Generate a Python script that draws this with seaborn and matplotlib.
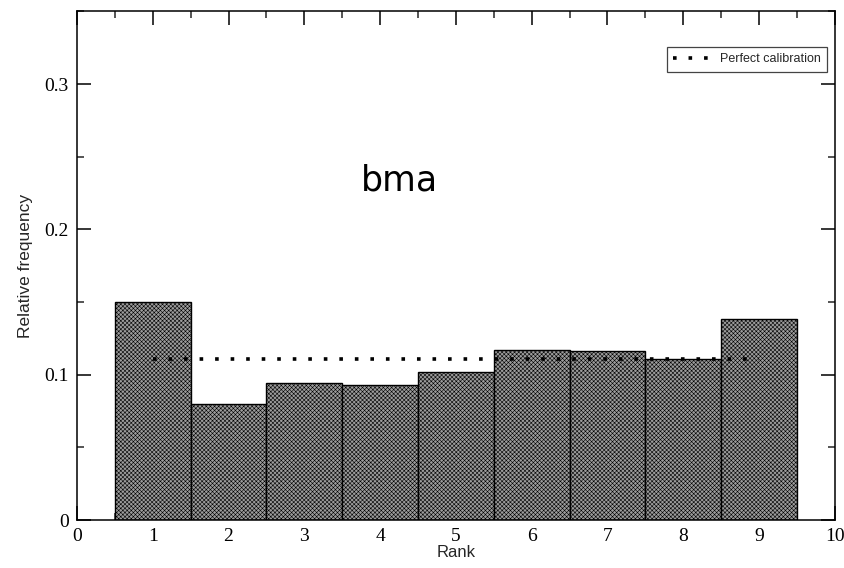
import numpy as np
import pandas as pd
import matplotlib
matplotlib.use("Agg")
import matplotlib.pyplot as plt
import seaborn as sns
from matplotlib.ticker import MultipleLocator, FixedLocator

# Rank histogram values
ranks = [1, 2, 3, 4, 5, 6, 7, 8, 9]
rel_freq = [0.150, 0.080, 0.094, 0.093, 0.102, 0.117, 0.116, 0.111, 0.138]
perfect_x = [1, 9]
perfect_y = [1 / 9, 1 / 9]
x_ticks = [0, 1, 2, 3, 4, 5, 6, 7, 8, 9, 10]
y_ticks = [0, 0.1, 0.2, 0.3]
y_tick_labels = ["0", "0.1", "0.2", "0.3"]
title_text = "bma"

sns.set_theme(style="ticks")
plt.rcParams["hatch.linewidth"] = 0.4

df = pd.DataFrame({"Rank": ranks, "freq": rel_freq})

fig = plt.figure(figsize=(8.45, 5.68), dpi=100)
ax = fig.add_axes([0.0911, 0.0845, 0.8969, 0.8953])

sns.barplot(data=df, x="Rank", y="freq", native_scale=True, width=1.0,
            color="#9c9c9c", edgecolor="black", linewidth=1.0,
            hatch="xxxxxxxx", saturation=1, ax=ax, zorder=2)
for p in ax.patches:
    p.set_facecolor("#9c9c9c")

ax.plot(perfect_x, perfect_y, color="black", linestyle=(0, (1, 3.3)),
        linewidth=2.6, label="Perfect calibration", zorder=3)

ax.set_xlim(0, 10)
ax.set_ylim(0, 0.35)
ax.xaxis.set_major_locator(FixedLocator(x_ticks))
ax.xaxis.set_minor_locator(MultipleLocator(0.5))
ax.yaxis.set_major_locator(FixedLocator(y_ticks))
ax.yaxis.set_minor_locator(MultipleLocator(0.05))
ax.set_xticklabels([str(t) for t in x_ticks], family="Liberation Serif", fontsize=14)
ax.set_yticklabels(y_tick_labels, family="Liberation Serif", fontsize=14)

ax.tick_params(which="major", direction="in", top=True, right=True,
               length=10, width=1.1, pad=6, colors="black")
ax.tick_params(which="minor", direction="in", top=True, right=True,
               length=5, width=1.1)
for s in ax.spines.values():
    s.set_linewidth(1.1)
    s.set_color("black")
    s.set_visible(True)

ax.set_xlabel("Rank", family="Liberation Sans", fontsize=12, labelpad=0)
ax.set_ylabel("Relative frequency", family="Liberation Sans", fontsize=12.5, labelpad=8)

ax.text(4.26, 0.234, title_text, ha="center", va="center",
        fontsize=25, family="DejaVu Sans", color="black")

leg = ax.legend(loc="upper right", bbox_to_anchor=(0.9894, 0.930),
                borderaxespad=0, fancybox=False, framealpha=1,
                edgecolor="#444444", handlelength=2.9, handletextpad=0.8,
                borderpad=0.5,
                prop={"family": "Liberation Sans", "size": 9})
leg.get_frame().set_linewidth(0.9)

fig.savefig("out.png", dpi=100)
